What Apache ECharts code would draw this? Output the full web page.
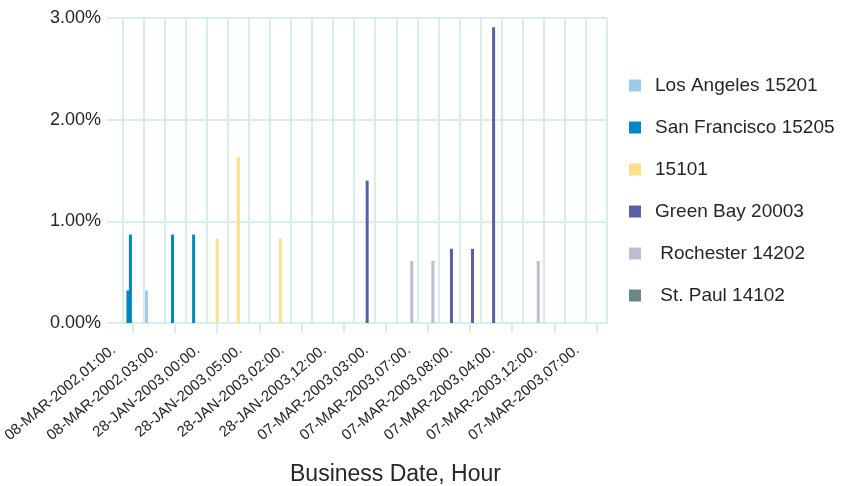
<!DOCTYPE html>
<html>
<head>
<meta charset="utf-8">
<script src="https://cdn.jsdelivr.net/npm/echarts@6/dist/echarts.min.js"></script>
<style>
  html, body { margin: 0; padding: 0; background: #ffffff; }
  #chart { width: 845px; height: 486px; }
</style>
</head>
<body>
<div id="chart"></div>
<script>
// Business date / hour buckets (every other one is labelled on the axis)
const categories = [
  '08-MAR-2002,01:00.', '08-MAR-2002,02:00.', '08-MAR-2002,03:00.', '08-MAR-2002,04:00.',
  '28-JAN-2003,00:00.', '28-JAN-2003,01:00.', '28-JAN-2003,05:00.', '28-JAN-2003,06:00.',
  '28-JAN-2003,02:00.', '28-JAN-2003,03:00.', '28-JAN-2003,12:00.', '07-MAR-2003,02:00.',
  '07-MAR-2003,03:00.', '07-MAR-2003,05:00.', '07-MAR-2003,07:00.', '07-MAR-2003,06:00.',
  '07-MAR-2003,08:00.', '07-MAR-2003,09:00.', '07-MAR-2003,04:00.', '07-MAR-2003,10:00.',
  '07-MAR-2003,12:00.', '07-MAR-2003,11:00.', '07-MAR-2003,07:00.'
];

// Percent of total per store (null = no value)
const losAngelesValues   = [null, 0.32, null, null, null, null, null, null, null, null, null, null, null, null, null, null, null, null, null, null, null, null, null];
const sanFranciscoValues = [0.87, null, 0.87, 0.87, null, null, null, null, null, null, null, null, null, null, null, null, null, null, null, null, null, null, null];
const sanFranciscoExtra  = [0.32, null, null, null, null, null, null, null, null, null, null, null, null, null, null, null, null, null, null, null, null, null, null];
const store15101Values   = [null, null, null, null, 0.83, 1.63, null, 0.83, null, null, null, null, null, null, null, null, null, null, null, null, null, null, null];
const greenBayValues     = [null, null, null, null, null, null, null, null, null, null, null, 1.40, null, null, null, 0.73, 0.73, 2.91, null, null, null, null, null];
const rochesterValues    = [null, null, null, null, null, null, null, null, null, null, null, null, null, 0.61, 0.61, null, null, null, null, 0.61, null, null, null];
const stPaulValues       = [null, null, null, null, null, null, null, null, null, null, null, null, null, null, null, null, null, null, null, null, null, null, null];

// Y axis ticks (percent)
const yTicks = { min: 0, max: 3, step: 1 };

const names = {
  la: 'Los Angeles 15201',
  sf: 'San Francisco 15205',
  s15101: '15101',
  gb: 'Green Bay 20003',
  roch: ' Rochester 14202',
  stp: ' St. Paul 14102'
};

const colors = {
  la: '#9ecbe8',
  sf: '#0087c3',
  s15101: '#fcdf8a',
  gb: '#5a5ea6',
  roch: '#bfbdd3',
  stp: '#6b8785'
};

const gridColor = '#d8efe8';
const textColor = '#262626';
const font = 'Liberation Sans, Arial, sans-serif';

function bar(name, data, color) {
  return {
    type: 'bar',
    name: name,
    data: data,
    xAxisIndex: 1,
    yAxisIndex: 1,
    barWidth: 3,
    barGap: '-17%',
    itemStyle: { color: color },
    emphasis: { disabled: true }
  };
}

const chart = echarts.init(document.getElementById('chart'), null, { renderer: 'canvas' });

chart.setOption({
  animation: false,
  backgroundColor: '#ffffff',
  textStyle: { fontFamily: font, color: textColor },
  title: {
    text: 'Business Date, Hour',
    left: 290,
    top: 463,
    padding: 0,
    textStyle: { fontFamily: font, fontSize: 23, fontWeight: 'normal', color: textColor, lineHeight: 23 }
  },
  legend: {
    orient: 'vertical',
    left: 629,
    top: 76,
    padding: 0,
    itemWidth: 12,
    itemHeight: 12,
    itemGap: 23,
    icon: 'rect',
    selectedMode: false,
    data: [names.la, names.sf, names.s15101, names.gb, names.roch, names.stp],
    textStyle: { fontFamily: font, fontSize: 19, color: textColor, lineHeight: 19, padding: [0, 0, 0, 9] }
  },
  grid: [
    { left: 107, right: 238, top: 18, bottom: 163 },
    { left: 120, right: 238, top: 18, bottom: 163 }
  ],
  xAxis: [
    { gridIndex: 0, type: 'value', show: false },
    {
      gridIndex: 1,
      type: 'category',
      data: categories,
      axisLine: { show: true, lineStyle: { color: gridColor, width: 2 } },
      axisTick: { show: true, interval: 1, alignWithLabel: true, length: 10, lineStyle: { color: gridColor, width: 2 } },
      splitLine: { show: true, interval: 0, lineStyle: { color: gridColor, width: 2 } },
      axisLabel: {
        interval: 1,
        rotate: 40,
        margin: 9,
        fontFamily: font,
        fontSize: 15,
        color: textColor,
        padding: [0, 25, 0, 0]
      }
    }
  ],
  yAxis: [
    {
      gridIndex: 0,
      type: 'value',
      min: yTicks.min,
      max: yTicks.max,
      interval: yTicks.step,
      axisLine: { show: false },
      axisTick: { show: false },
      splitLine: { show: true, lineStyle: { color: gridColor, width: 2 } },
      axisLabel: {
        margin: 6,
        fontFamily: font,
        fontSize: 18,
        color: textColor,
        formatter: v => v.toFixed(2) + '%'
      }
    },
    { gridIndex: 1, type: 'value', min: yTicks.min, max: yTicks.max, interval: yTicks.step, show: false }
  ],
  series: [
    bar(names.la, losAngelesValues, colors.la),
    bar(names.sf, sanFranciscoExtra, colors.sf),
    bar(names.sf, sanFranciscoValues, colors.sf),
    bar(names.s15101, store15101Values, colors.s15101),
    bar(names.gb, greenBayValues, colors.gb),
    bar(names.roch, rochesterValues, colors.roch),
    bar(names.stp, stPaulValues, colors.stp)
  ]
});
</script>
</body>
</html>
